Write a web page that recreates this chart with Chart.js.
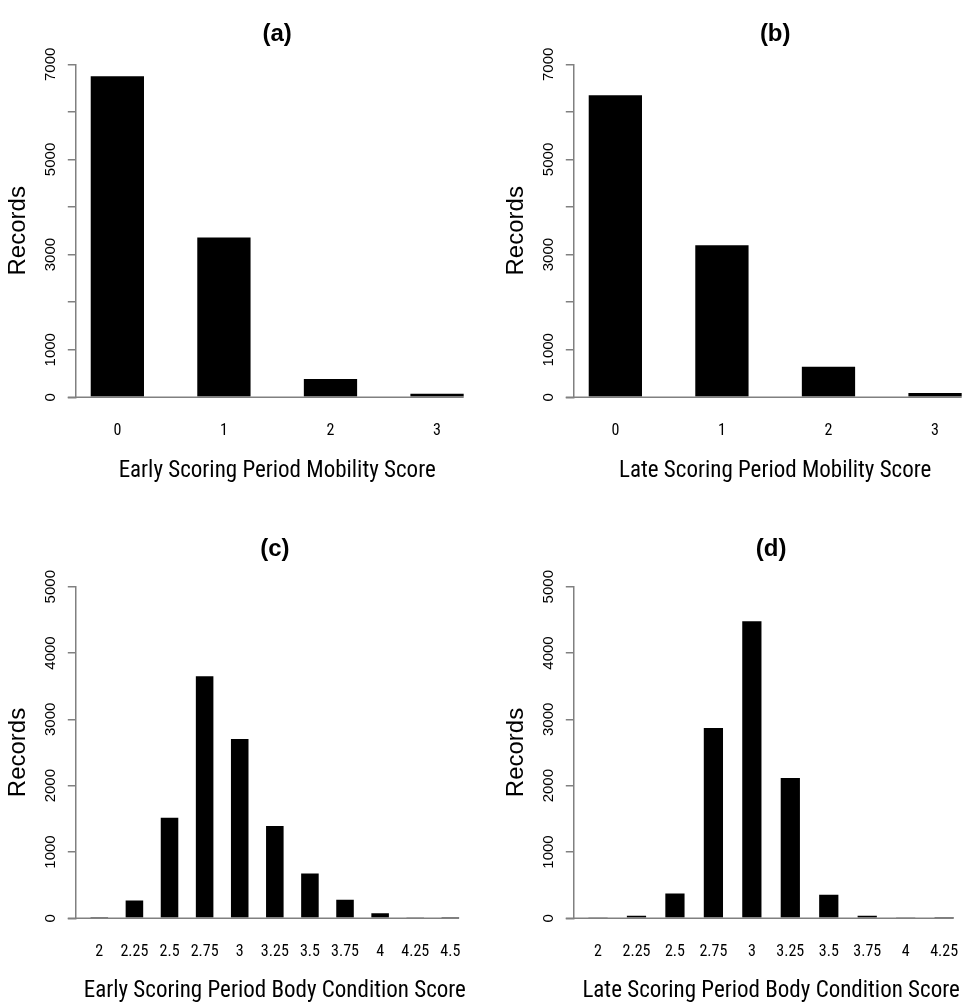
<!DOCTYPE html>
<html><head><meta charset="utf-8">
<script src="https://cdn.jsdelivr.net/npm/chart.js@4/dist/chart.umd.min.js"></script>
<style>
html,body{margin:0;padding:0;background:#fff;width:970px;height:1005px;overflow:hidden;position:relative;}
canvas{position:absolute;}
</style></head><body>
<canvas id="pa" width="485" height="500" style="left:0px;top:0px;width:485px;height:500px"></canvas>
<canvas id="pb" width="485" height="500" style="left:498px;top:0px;width:485px;height:500px"></canvas>
<canvas id="pc" width="485" height="505" style="left:0px;top:500px;width:485px;height:505px"></canvas>
<canvas id="pd" width="485" height="505" style="left:498px;top:500px;width:485px;height:505px"></canvas>
<script>
// ---- data ----
const mobilityCategories = ['0', '1', '2', '3'];
const earlyMobility = [6750, 3360, 385, 75];
const lateMobility = [6350, 3195, 640, 90];
const earlyBcsCategories = ['2', '2.25', '2.5', '2.75', '3', '3.25', '3.5', '3.75', '4', '4.25', '4.5'];
const earlyBcs = [20, 270, 1515, 3650, 2705, 1390, 675, 280, 75, 8, 5];
const lateBcsCategories = ['2', '2.25', '2.5', '2.75', '3', '3.25', '3.5', '3.75', '4', '4.25'];
const lateBcs = [15, 40, 375, 2870, 4480, 2115, 355, 40, 15, 5];
const mobilityYTicks = [0, 1000, 2000, 3000, 4000, 5000, 6000, 7000];
const mobilityYLabels = [0, 1000, 3000, 5000, 7000];
const bcsYTicks = [0, 1000, 2000, 3000, 4000, 5000];
const bcsYLabels = [0, 1000, 2000, 3000, 4000, 5000];

// ---- styling ----
const AXIS = '#808080';
const NARROW = "'Roboto Condensed','Liberation Sans Narrow','Arial Narrow','DejaVu Sans Condensed',sans-serif";
const REG = "'Liberation Sans',Arial,sans-serif";
const TICK_LEN = 8;

const topRow = {titlePadTop: 19.6, titlePadBottom: 15.9, xHeight: 102.7, xTitlePadBottom: 14.6};
const bottomRow = {titlePadTop: 34.9, titlePadBottom: 23, xHeight: 86.7, xTitlePadBottom: 0};

const baselinePlugin = {
  id: 'baseline',
  afterDatasetsDraw(chart) {
    const {ctx, chartArea, scales} = chart;
    const bars = chart.getDatasetMeta(0).data;
    const last = bars[bars.length - 1];
    const yPix = scales.y.getPixelForValue(0);
    ctx.save();
    ctx.strokeStyle = AXIS;
    ctx.lineWidth = 1.5;
    ctx.beginPath();
    ctx.moveTo(chartArea.left - TICK_LEN, yPix);
    ctx.lineTo(last.x + last.width / 2, yPix);
    ctx.stroke();
    ctx.restore();
  }
};

function makePanel(id, title, xTitle, cats, values, yTicks, yLabels, row) {
  const n = cats.length;
  const ext = 0.04 * (2 * n - 1);
  const points = values.map((v, i) => ({x: 1.5 + 2 * i, y: v}));
  new Chart(document.getElementById(id), {
    type: 'bar',
    data: {datasets: [{data: points, backgroundColor: '#000', borderWidth: 0,
      categoryPercentage: 1, barPercentage: 0.5}]},
    options: {
      responsive: false, animation: false, devicePixelRatio: 1,
      layout: {padding: {left: 0, right: 6.4, top: 0, bottom: 0}},
      plugins: {
        legend: {display: false}, tooltip: {enabled: false},
        title: {display: true, text: title, fullSize: false, color: '#000',
          font: {family: REG, size: 24, weight: 'bold', lineHeight: 1.2},
          padding: {top: row.titlePadTop, bottom: row.titlePadBottom}}
      },
      scales: {
        x: {
          type: 'linear', offset: false, min: 1 - ext, max: 2 * n + ext,
          afterBuildTicks: s => { s.ticks = cats.map((c, i) => ({value: 1.5 + 2 * i})); },
          afterFit: s => { s.height = row.xHeight; },
          border: {display: false},
          grid: {display: false, drawTicks: false},
          ticks: {autoSkip: false, minRotation: 0, maxRotation: 0, padding: 24, color: '#000',
            font: {family: NARROW, size: 16}, callback: (v, i) => cats[i]},
          title: {display: true, text: xTitle, color: '#000',
            font: {family: NARROW, size: 23, lineHeight: 1.2}, padding: {top: 0, bottom: row.xTitlePadBottom}}
        },
        y: {
          min: 0, max: yTicks[yTicks.length - 1],
          afterBuildTicks: s => { s.ticks = yTicks.map(v => ({value: v})); },
          afterFit: s => { s.width = 75.8; },
          border: {display: true, color: AXIS, width: 1.5},
          grid: {drawOnChartArea: false, drawTicks: true, tickLength: TICK_LEN, color: AXIS, lineWidth: 1.5},
          ticks: {autoSkip: false, minRotation: 90, maxRotation: 90, padding: 0, crossAlign: 'center',
            color: '#000', font: {family: REG, size: 15},
            callback: v => yLabels.includes(v) ? String(v) : ''},
          title: {display: true, text: 'Records', color: '#000',
            font: {family: REG, size: 24, lineHeight: 1.2}, padding: {top: 4.4, bottom: 0}}
        }
      }
    },
    plugins: [baselinePlugin]
  });
}

makePanel('pa', '(a)', 'Early Scoring Period Mobility Score', mobilityCategories, earlyMobility, mobilityYTicks, mobilityYLabels, topRow);
makePanel('pb', '(b)', 'Late Scoring Period Mobility Score', mobilityCategories, lateMobility, mobilityYTicks, mobilityYLabels, topRow);
makePanel('pc', '(c)', 'Early Scoring Period Body Condition Score', earlyBcsCategories, earlyBcs, bcsYTicks, bcsYLabels, bottomRow);
makePanel('pd', '(d)', 'Late Scoring Period Body Condition Score', lateBcsCategories, lateBcs, bcsYTicks, bcsYLabels, bottomRow);
</script>
</body></html>
